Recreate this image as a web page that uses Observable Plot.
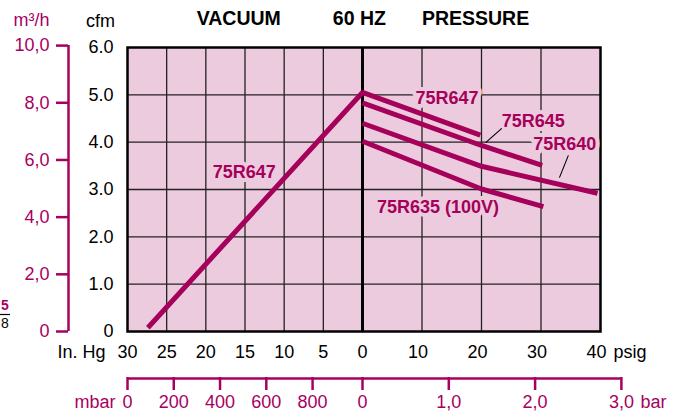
<!DOCTYPE html>
<html><head><meta charset="utf-8">
<script src="https://cdn.jsdelivr.net/npm/d3@7"></script>
<script src="https://cdn.jsdelivr.net/npm/@observablehq/plot@0.6"></script>
<style>body{margin:0;background:#fff;}</style>
</head><body><div id="chart"></div>
<script>
// ---- data ----
const vacuumInHg   = [27.4, 0];
const vacuum647Cfm = [0.08, 5.05];
const psig647 = [0, 19.8];       const cfm647 = [5.05, 4.15];
const psig645 = [0, 20, 30.2];   const cfm645 = [4.83, 3.93, 3.51];
const psig640 = [0, 20, 39.5];   const cfm640 = [4.40, 3.49, 2.92];
const psig635 = [0, 20, 30.4];   const cfm635 = [4.02, 3.01, 2.64];

const labelText   = ["75R647", "75R647", "75R645", "75R640", "75R635 (100V)"];
const labelSide   = ["vac", "psi", "psi", "psi", "psi"];
const labelValue  = [15.1, 14.2, 28.7, 34.0, 12.7];   // inHg for vacuum side, psig for pressure side
const labelCfm    = [3.36, 4.92, 4.44, 3.95, 2.62];

const leaderPsig1 = [23.4, 34.6], leaderCfm1 = [4.29, 3.72];
const leaderPsig2 = [20.7, 33.1], leaderCfm2 = [3.99, 3.25];

const vacuumTicks = [30, 25, 20, 15, 10, 5, 0];
const psigTicks   = [0, 10, 20, 30, 40];
const cfmTicks    = [0, 1, 2, 3, 4, 5, 6];
const m3hTicks    = [0, 2, 4, 6, 8, 10];
const m3hLabels   = ["0", "2,0", "4,0", "6,0", "8,0", "10,0"];
const mbarTicks   = [0, 200, 400, 600, 800];
const barTicks    = [0, 1, 2, 3];
const barLabels   = ["0", "1,0", "2,0", "3,0"];
const titles      = ["VACUUM", "60 HZ", "PRESSURE"];
const titleSide   = ["vac", "vac", "psi"];
const titleValue  = [15.8, 0.4, 19];

// ---- conversions ----
const M3H_TO_CFM = 0.604;
const VAC_SCALE = (235 / 30) / (238 / 40);      // drawn width of 1 inHg relative to 1 psig
const vacX  = v => -v * VAC_SCALE;
const psiX  = p => p;
const mbarToX = m => vacX(30 - m / 33.86);
const barToX  = b => psiX(b * 14.504);
const sideX = (s, v) => s === "vac" ? vacX(v) : psiX(v);

// ---- layout ----
const W = 676, H = 413, L = 127, R = 600, T = 47, B = 331;
const XDOM = [vacX(30), psiX(40)];
const xs = d3.scaleLinear(XDOM, [L, R]);
const ys = d3.scaleLinear([0, 6], [B, T]);
const X = px => xs.invert(px), Y = py => ys.invert(py);

const PINK = "#edcbdf", MAG = "#a5005a", AXM = "#a8005f", GRID = "#222";
const FONT = "Liberation Sans, Arial, Helvetica, sans-serif";

const curves = [];
vacuumInHg.forEach((v, i) => curves.push({s: "647", x: vacX(v), y: vacuum647Cfm[i]}));
psig647.forEach((p, i) => { if (i > 0) curves.push({s: "647", x: psiX(p), y: cfm647[i]}); });
psig645.forEach((p, i) => curves.push({s: "645", x: psiX(p), y: cfm645[i]}));
psig640.forEach((p, i) => curves.push({s: "640", x: psiX(p), y: cfm640[i]}));
psig635.forEach((p, i) => curves.push({s: "635", x: psiX(p), y: cfm635[i]}));

const labels = labelText.map((t, i) => ({t, x: sideX(labelSide[i], labelValue[i]), y: labelCfm[i]}));
const leaders = leaderPsig1.map((p, i) => ({x1: psiX(p), y1: leaderCfm1[i], x2: psiX(leaderPsig2[i]), y2: leaderCfm2[i]}));

const gridX = [...vacuumTicks.filter(v => v !== 0 && v !== 30).map(vacX),
               ...psigTicks.filter(p => p !== 0 && p !== 40).map(psiX)];
const gridY = cfmTicks.filter(c => c !== 0 && c !== 6);

const bottomTicks = [...mbarTicks.map(mbarToX), ...barTicks.map(barToX)];
const m2c = m => m * M3H_TO_CFM;

const tickText = {fontSize: 18, fill: "#000", lineAnchor: "middle"};
const magText = {fontSize: 18, fill: AXM, lineAnchor: "middle"};

const chart = Plot.plot({
  width: W, height: H,
  marginLeft: L, marginRight: W - R, marginTop: T, marginBottom: H - B,
  style: {fontFamily: FONT, background: "#fff", overflow: "visible"},
  x: {domain: XDOM, axis: null},
  y: {domain: [0, 6], axis: null},
  marks: [
    Plot.frame({fill: PINK, stroke: null}),
    Plot.ruleX(gridX, {stroke: GRID, strokeWidth: 1.3}),
    Plot.ruleY(gridY, {stroke: GRID, strokeWidth: 1.3}),
    Plot.ruleX([psiX(0)], {stroke: "#000", strokeWidth: 3}),
    Plot.frame({stroke: "#000", strokeWidth: 2.5}),
    Plot.text(labels, {x: "x", y: "y", text: "t", fill: MAG, stroke: PINK, strokeWidth: 8,
      strokeLinejoin: "round", paintOrder: "stroke", fontSize: 18, fontWeight: "bold", lineAnchor: "middle"}),
    Plot.link(leaders, {x1: "x1", y1: "y1", x2: "x2", y2: "y2", stroke: "#000", strokeWidth: 1.1}),
    Plot.line(curves, {x: "x", y: "y", z: "s", stroke: MAG, strokeWidth: 5, strokeLinecap: "butt", strokeLinejoin: "miter"}),
    Plot.text(titles, {x: (d, i) => sideX(titleSide[i], titleValue[i]), y: Y(18), text: d => d, fontSize: 19.5, fontWeight: "bold", fill: "#000", lineAnchor: "middle"}),
    Plot.text(cfmTicks, {x: X(113), y: d => d, text: d => d === 0 ? "0" : d.toFixed(1), textAnchor: "end", ...tickText}),
    Plot.text(["cfm"], {x: X(100), y: Y(21), text: d => d, ...tickText}),
    Plot.ruleX([X(68)], {y1: m2c(0), y2: m2c(10), stroke: AXM, strokeWidth: 2.5}),
    Plot.ruleY(m3hTicks, {y: m2c, x1: X(56), x2: X(68), stroke: AXM, strokeWidth: 2.5}),
    Plot.text(m3hTicks, {x: X(49), y: m2c, text: (d, i) => m3hLabels[i], textAnchor: "end", ...magText}),
    Plot.text(["m³/h"], {x: X(31), y: Y(20), text: d => d, ...magText}),
    Plot.text(vacuumTicks, {x: vacX, y: Y(352), text: d => String(d), ...tickText}),
    Plot.text(psigTicks.filter(p => p !== 0), {x: psiX, y: Y(352), dx: -4, text: d => String(d), ...tickText}),
    Plot.text(["In. Hg"], {x: X(105), y: Y(352), text: d => d, textAnchor: "end", ...tickText}),
    Plot.text(["psig"], {x: X(613), y: Y(352), text: d => d, textAnchor: "start", ...tickText}),
    Plot.ruleY([Y(378)], {x1: mbarToX(0), x2: barToX(3), stroke: AXM, strokeWidth: 2.5}),
    Plot.ruleX(bottomTicks, {y1: Y(377), y2: Y(390), stroke: AXM, strokeWidth: 2.5}),
    Plot.text(mbarTicks, {x: mbarToX, y: Y(402), text: d => String(d), ...magText}),
    Plot.text(barTicks, {x: barToX, y: Y(402), text: (d, i) => barLabels[i], ...magText}),
    Plot.text(["mbar"], {x: X(115), y: Y(402), text: d => d, textAnchor: "end", ...magText}),
    Plot.text(["bar"], {x: X(640), y: Y(402), text: d => d, textAnchor: "start", ...magText}),
    Plot.text(["5"], {x: X(0.5), y: Y(305), text: d => d, textAnchor: "start", fontWeight: "bold", fontSize: 14, fill: AXM, lineAnchor: "middle"}),
    Plot.ruleY([Y(314)], {x1: X(0), x2: X(10), stroke: "#000", strokeWidth: 1.2}),
    Plot.text(["8"], {x: X(0.5), y: Y(323), text: d => d, textAnchor: "start", fontSize: 14, fill: "#000", lineAnchor: "middle"})
  ]
});
document.getElementById("chart").append(chart);
</script>
</body></html>
